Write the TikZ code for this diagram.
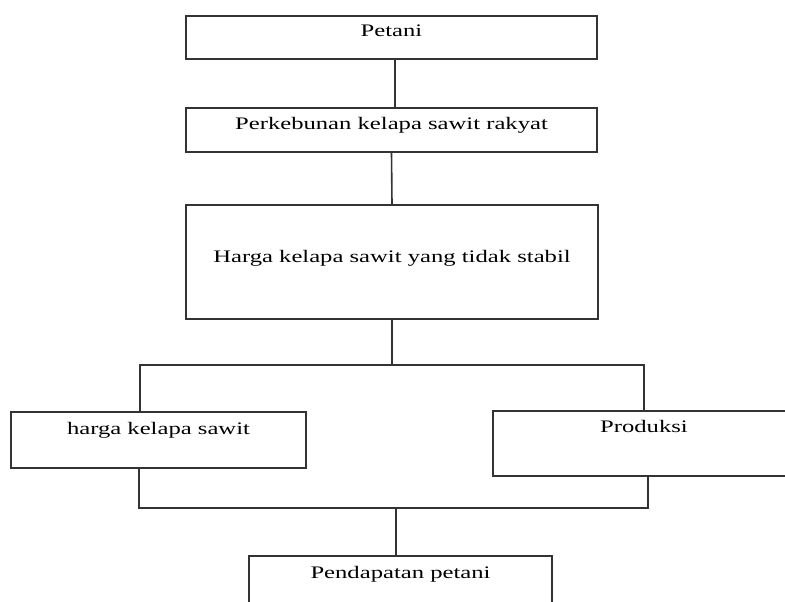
\documentclass[tikz,border=0pt]{standalone}
\usepackage{fontspec}
\setmainfont{Liberation Serif}[FakeStretch=1.4]

\tikzset{
  box/.style={draw=black!80, line width=1.6pt, inner sep=0pt, text height=12pt,
    font=\fontsize{17.6}{20}\selectfont},
  link/.style={draw=black!80, line width=1.6pt},
}

\begin{document}
\begin{tikzpicture}[x=1pt, y=-1pt]
  \clip (0,0) rectangle (785,602);

  \node[box, minimum width=411pt, minimum height=43pt, text depth=14pt] (petani) at (391.5,37.5) {Petani};
  \node[box, minimum width=411pt, minimum height=44pt, text depth=14pt] (kebun) at (391.5,130) {Perkebunan kelapa sawit rakyat};
  \node[box, minimum width=412pt, minimum height=114pt, text depth=11pt] (harga) at (392,262) {Harga kelapa sawit yang tidak stabil};

  \node[box, minimum width=295pt, minimum height=56pt, text depth=23.4pt] (hargasawit) at (158.5,440) {harga kelapa sawit};
  \node[box, minimum width=302pt, minimum height=65pt, text depth=33.6pt] (produksi) at (644,443.5) {Produksi};
  \node[box, minimum width=303pt, minimum height=56pt, text depth=23.4pt] (pendapatan) at (400.5,584) {Pendapatan petani};

  \coordinate (topL) at (140,365);
  \coordinate (topR) at (644,365);
  \coordinate (botL) at (139,508);
  \coordinate (botR) at (648,508);

  \draw[link] ([xshift=3.5pt]petani.south) -- ([xshift=3.5pt]kebun.north);
  \draw[link] (kebun.south) -- (harga.north);
  \draw[link] (harga.south) -- (harga.south |- topL);
  \draw[link] (hargasawit.north -| topL) -- (topL) -- (topR) -- (produksi.north);

  \draw[link] (hargasawit.south -| botL) -- (botL) -- (botR) -- (produksi.south -| botR);
  \draw[link] ([xshift=-4.5pt]pendapatan.north) -- ([xshift=-4.5pt]pendapatan.north |- botL);
\end{tikzpicture}
\end{document}
